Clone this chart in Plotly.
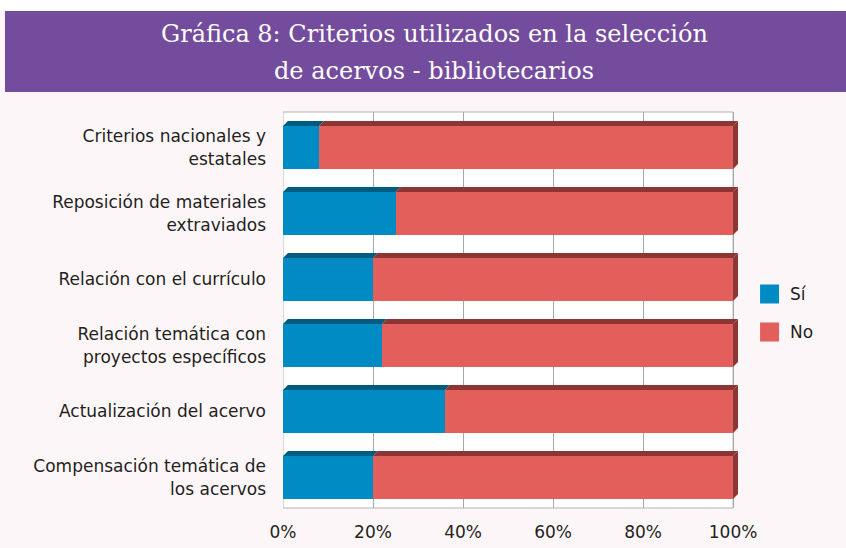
import plotly.graph_objects as go

# ---------------- data ----------------
categories = [
    "Criterios nacionales y<br>estatales",
    "Reposición de materiales<br>extraviados",
    "Relación con el currículo",
    "Relación temática con<br>proyectos específicos",
    "Actualización del acervo",
    "Compensación temática de<br>los acervos",
]
series_names = ["Sí", "No"]
si_values = [8, 25, 20, 22, 36, 20]
no_values = [92, 75, 80, 78, 64, 80]
x_tick_values = [0, 20, 40, 60, 80, 100]
x_tick_labels = ["0%", "20%", "40%", "60%", "80%", "100%"]
title_lines = ["Gráfica 8: Criterios utilizados en la selección",
               "de acervos - bibliotecarios"]

# ---------------- style ----------------
FRONT = {"Sí": "#008bc4", "No": "#e35f5b"}
TOP = {"Sí": "#005b80", "No": "#8c3634"}
PURPLE = "#744c9d"
BG = "#fdf6f8"
GRID = "#a8a8a8"
TXT = "#231f20"
LABEL_FONT = "DejaVu Sans"
LABEL_SIZE = 17

W, H = 846, 548
L_PX, R100_PX, T_PX, B_PX = 283, 733, 112, 508
BAR_W = 0.65
DX = 1.1      # 3D depth in x units
DY = 0.076    # 3D depth in category units
XMAX = 100 + DX
plot_w = (R100_PX - L_PX) * XMAX / 100.0
margin_r = W - L_PX - plot_w


def xp(p):
    return (p - L_PX) / plot_w


def yp(p):
    return (B_PX - p) / (B_PX - T_PX)


idx = list(range(len(categories)))
series_values = {"Sí": si_values, "No": no_values}

fig = go.Figure()
for name in series_names:
    fig.add_trace(go.Bar(
        y=idx, x=series_values[name], orientation="h", name=name,
        width=BAR_W, marker=dict(color=FRONT[name], line=dict(width=0)),
        showlegend=False, hoverinfo="x+name",
    ))

shapes = []
# plot background with border
shapes.append(dict(type="rect", xref="x", yref="paper", x0=0, x1=100, y0=0, y1=1,
                   fillcolor="white", line=dict(color="#b4b4b4", width=1), layer="below"))

# 3D faces
for i, s, n in zip(idx, si_values, no_values):
    yt = i - BAR_W / 2
    yb = i + BAR_W / 2
    end = s + n
    shapes.append(dict(type="path", xref="x", yref="y",
                       path=f"M 0,{yt} L {DX},{yt-DY} L {s+DX},{yt-DY} L {s},{yt} Z",
                       fillcolor=TOP["Sí"], line=dict(width=0)))
    shapes.append(dict(type="path", xref="x", yref="y",
                       path=f"M {s},{yt} L {s+DX},{yt-DY} L {end+DX},{yt-DY} L {end},{yt} Z",
                       fillcolor=TOP["No"], line=dict(width=0)))
    shapes.append(dict(type="path", xref="x", yref="y",
                       path=f"M {end},{yt} L {end+DX},{yt-DY} L {end+DX},{yb-DY} L {end},{yb} Z",
                       fillcolor=TOP["No"], line=dict(width=0)))

# header band
shapes.append(dict(type="rect", xref="paper", yref="paper", x0=xp(0), x1=xp(W),
                   y0=yp(11), y1=yp(0), fillcolor="white", line=dict(width=0), layer="below"))
shapes.append(dict(type="rect", xref="paper", yref="paper", x0=xp(5), x1=xp(W),
                   y0=yp(92), y1=yp(11), fillcolor=PURPLE, line=dict(width=0), layer="below"))

# legend swatches
legend_y = [294, 332]
annotations = []
for name, cy in zip(series_names, legend_y):
    shapes.append(dict(type="rect", xref="paper", yref="paper",
                       x0=xp(760), x1=xp(779), y0=yp(cy + 9.5), y1=yp(cy - 9.5),
                       fillcolor=FRONT[name], line=dict(width=0)))
    annotations.append(dict(text=name, xref="paper", yref="paper", x=xp(788), y=yp(cy),
                            xanchor="left", yanchor="middle", showarrow=False,
                            font=dict(family=LABEL_FONT, size=LABEL_SIZE, color=TXT)))

for line, cy in zip(title_lines, [34, 71]):
    annotations.append(dict(text=line, xref="paper", yref="paper", x=xp(434), y=yp(cy),
                            xanchor="center", yanchor="middle", showarrow=False,
                            font=dict(family="DejaVu Serif", size=24, color="white")))

fig.update_layout(
    width=W, height=H,
    margin=dict(l=L_PX, r=margin_r, t=T_PX, b=H - B_PX, pad=0, autoexpand=False),
    paper_bgcolor=BG, plot_bgcolor=BG,
    barmode="stack", bargap=0,
    shapes=shapes, annotations=annotations,
    showlegend=False,
    font=dict(family=LABEL_FONT, size=LABEL_SIZE, color=TXT),
)
fig.update_xaxes(range=[0, XMAX], tickvals=x_tick_values, ticktext=x_tick_labels,
                 showgrid=True, gridcolor=GRID, gridwidth=1, zeroline=False,
                 showline=False, ticks="", ticklabelstandoff=12, automargin=False,
                 tickfont=dict(family=LABEL_FONT, size=LABEL_SIZE, color=TXT), fixedrange=True)
fig.update_yaxes(range=[5.462, -0.538], tickvals=idx, ticktext=categories,
                 showgrid=False, zeroline=False, showline=False, ticks="",
                 ticklabelstandoff=16, automargin=False,
                 tickfont=dict(family=LABEL_FONT, size=LABEL_SIZE, color=TXT), fixedrange=True)

fig.write_html("out.html", config={"displayModeBar": False},
               post_script="document.body.style.margin='0';")
